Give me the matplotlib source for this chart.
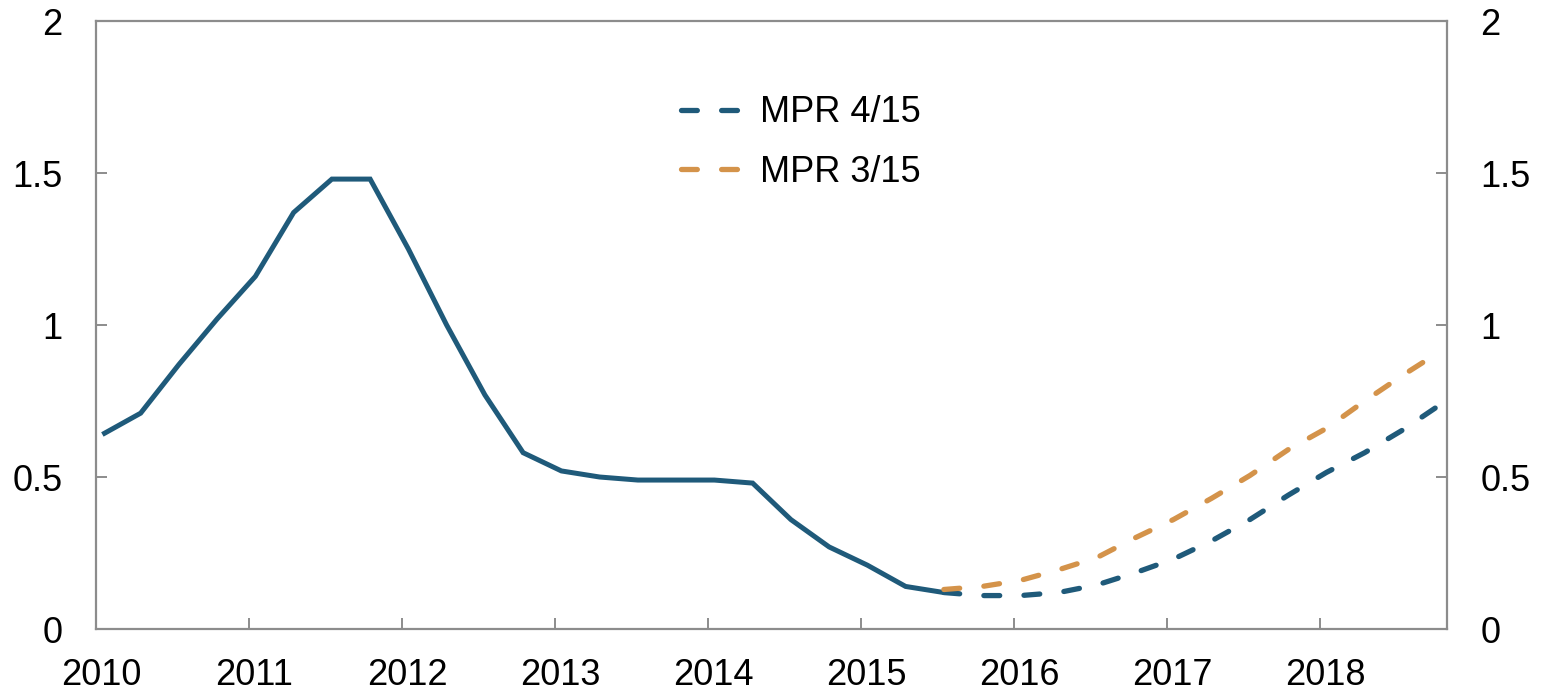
import matplotlib
matplotlib.use("Agg")
import matplotlib.pyplot as plt
import matplotlib.transforms as mtransforms
import pandas as pd

plt.rcParams['font.family'] = ['Liberation Sans', 'DejaVu Sans']

# ---- data (quarterly) ----
hist_quarters = pd.period_range("2010Q1", "2015Q3", freq="Q")
hist_values = [0.64, 0.71, 0.87, 1.02, 1.16, 1.37, 1.48, 1.48, 1.25, 1.00,
               0.77, 0.58, 0.52, 0.50, 0.49, 0.49, 0.49, 0.48, 0.36, 0.27,
               0.21, 0.14, 0.12]

proj_quarters = pd.period_range("2015Q3", "2018Q4", freq="Q")
mpr_4_15 = [0.12, 0.11, 0.11, 0.12, 0.145, 0.185, 0.23, 0.29, 0.36, 0.44,
            0.515, 0.58, 0.655, 0.74]
mpr_3_15 = [0.13, 0.14, 0.16, 0.195, 0.235, 0.30, 0.36, 0.43, 0.505, 0.59,
            0.66, 0.75, 0.835, 0.915]

series_labels = ["MPR 4/15", "MPR 3/15"]
year_ticks = list(range(2010, 2019))
y_ticks = [0, 0.5, 1, 1.5, 2]
y_ticklabels = ["0", "0.5", "1", "1.5", "2"]

BLUE = "#1F5A7A"
ORANGE = "#D4934A"
GREY = "#8C8C8C"
FS = 26


def to_x(periods):
    return [p.year + (p.quarter - 1) / 4 + 1 / 24 for p in periods]


fig = plt.figure(figsize=(15.41, 6.91), dpi=100)
ax = fig.add_axes([0.0623, 0.0897, 0.8767, 0.8799])

ax.plot(to_x(hist_quarters), hist_values, color=BLUE, lw=3.6,
        solid_joinstyle="miter", solid_capstyle="butt", zorder=3)
l1, = ax.plot(to_x(proj_quarters), mpr_4_15, color=BLUE, lw=3.8,
              ls=(0, (3.0, 4.6)), dash_capstyle="round", zorder=4,
              label=series_labels[0])
l2, = ax.plot(to_x(proj_quarters), mpr_3_15, color=ORANGE, lw=3.8,
              ls=(0, (3.0, 4.6)), dash_capstyle="round", zorder=5,
              label=series_labels[1])

ax.set_xlim(2010, 2018.83)
ax.set_ylim(0, 2)

ax.set_xticks(year_ticks)
ax.set_xticklabels([str(y) for y in year_ticks])
ax.set_yticks(y_ticks)
ax.set_yticklabels(y_ticklabels)

for s in ax.spines.values():
    s.set_color(GREY)
    s.set_linewidth(1.6)

ax.tick_params(axis="y", which="both", direction="in", length=8, width=1.4,
               color=GREY, labelsize=FS, pad=24, left=True, right=True,
               labelleft=True, labelright=True)
ax.tick_params(axis="x", which="both", direction="in", length=8, width=1.4,
               color=GREY, labelsize=FS, pad=21, top=False)

offset = mtransforms.ScaledTranslation(5 / 100, 0, fig.dpi_scale_trans)
for lab in ax.get_xticklabels():
    lab.set_transform(lab.get_transform() + offset)

leg = ax.legend(handles=[l1, l2], loc="upper left",
                bbox_to_anchor=(0.433, 0.878), frameon=False,
                fontsize=FS, handlelength=1.8, handletextpad=0.4,
                labelspacing=0.68, borderpad=0, borderaxespad=0)

fig.savefig("out.png", dpi=100)
